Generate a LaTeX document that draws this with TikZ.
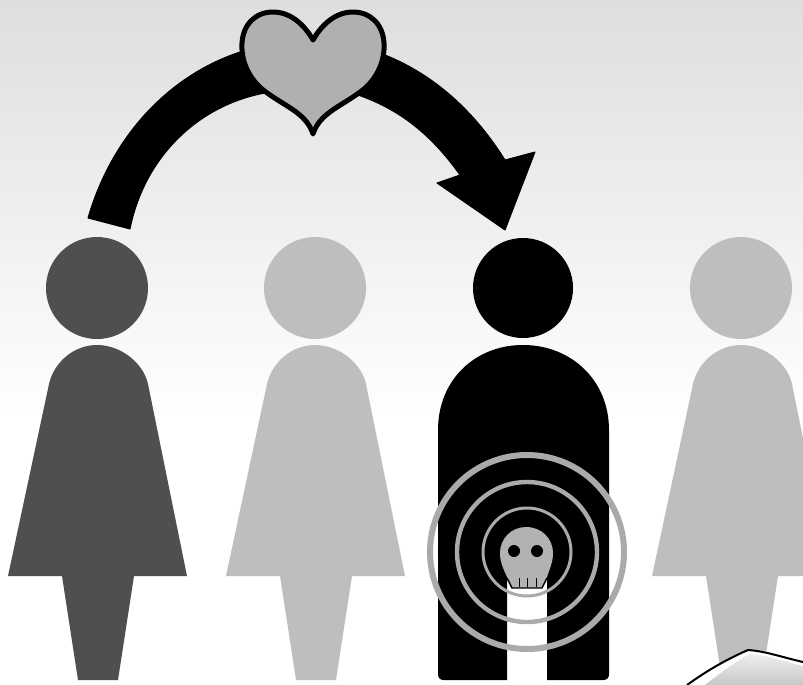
\documentclass[tikz,border=0pt]{standalone}
\tikzset{
  backdrop/.style={draw=none,top color={rgb,255:red,222;green,222;blue,222},bottom color=white},
  ringline/.style={draw={rgb,255:red,170;green,170;blue,170},fill=none},
  skullfill/.style={fill={rgb,255:red,178;green,178;blue,178},draw=none},
  heartfill/.style={fill={rgb,255:red,176;green,176;blue,176},draw=black,line width=2.5pt,line join=round},
}
\begin{document}
\begin{tikzpicture}[x=.5pt,y=-.5pt]
\path[use as bounding box] (0,0) rectangle (803,685);
\clip (0,0) rectangle (803,685);
\path[fill=white] (0,0) rectangle (803,685);
\path[backdrop] (0,0) rectangle (803,420);
% women
\foreach \offs/\tone in {0/79,218/190,644/190} {
  \begin{scope}[xshift=\offs*.5pt]
  \definecolor{womantone}{RGB}{\tone,\tone,\tone}
  \path[fill=womantone] (97,288) circle[radius=25.5pt];
  \path[fill=womantone] (8,576) -- (49,384) .. controls (54,362) and (74,345) .. (97,345)
    .. controls (120,345) and (143,362) .. (148,384) -- (187,576) -- (134,576) -- (118,680)
    -- (78,680) -- (62,576) -- cycle;
  \end{scope}
}
% man
\path[fill=black] (523,288) circle[radius=25pt];
\path[fill=black] (438,430) .. controls (438,380) and (475,345) .. (523,345)
  .. controls (571,345) and (609,380) .. (609,430) -- (609,674) .. controls (609,678) and (607,680) .. (603,680)
  -- (547,680) -- (547,580) -- (507,580) -- (507,680) -- (444,680)
  .. controls (440,680) and (438,678) .. (438,674) -- cycle;
% rings
\draw[ringline,line width=3pt] (527,552) circle[radius=48.5pt];
\draw[ringline,line width=2.2pt] (527,552) circle[radius=35pt];
\draw[ringline,line width=1.5pt] (527,552) circle[radius=22pt];
% skull
\path[skullfill] (526,527) .. controls (542,527) and (553,539) .. (553,553)
  .. controls (553,563) and (549,570) .. (547,577) -- (542,588) -- (512,588) -- (507,577)
  .. controls (504,570) and (500,563) .. (500,553) .. controls (500,539) and (511,527) .. (526,527) -- cycle;
\path[fill=black] (514,551) circle[radius=3pt];
\path[fill=black] (537,551) circle[radius=3pt];
\draw[black,line width=.5pt] (519,578) -- (519,587);
\draw[black,line width=.5pt] (527,578) -- (527,587);
\draw[black,line width=.5pt] (536,578) -- (536,587);
\draw[black,line width=.7pt] (507,578) -- (512,588) -- (542,588) -- (547,578);
% arrow
\path[fill=black,draw=black,line width=.5pt,line join=round] (88,218) .. controls (112,135) and (170,75) .. (240,52) -- (385,55)
  .. controls (435,75) and (475,112) .. (505,160) -- (535,152) -- (505,230) -- (437,183) -- (460,175)
  .. controls (428,130) and (395,108) .. (358,95) -- (265,93)
  .. controls (200,105) and (145,155) .. (130,229) -- cycle;
% heart
\draw[heartfill] (313,134) .. controls (306,112) and (283,106) .. (262,89)
  .. controls (248,77) and (241,60) .. (242,43) .. controls (243,25) and (255,12) .. (273,12)
  .. controls (290,12) and (304,24) .. (313,40) .. controls (322,24) and (336,12) .. (353,12)
  .. controls (371,12) and (383,25) .. (384,43) .. controls (385,60) and (378,77) .. (364,89)
  .. controls (343,106) and (320,112) .. (313,134) -- cycle;
% pillow corner
\path[fill=white] (687,685) .. controls (705,672) and (725,660) .. (748,650) .. controls (765,651) and (785,658) .. (803,662) -- (803,685) -- cycle;
\path[top color={rgb,255:red,238;green,238;blue,238},bottom color={rgb,255:red,200;green,200;blue,200}] (705,685) .. controls (720,673) and (735,662) .. (750,654) .. controls (768,655) and (785,662) .. (803,666) -- (803,685) -- cycle;
\draw[black,line width=1pt] (687,685) .. controls (705,672) and (725,660) .. (748,650) .. controls (765,651) and (785,658) .. (803,662);
\end{tikzpicture}
\end{document}
